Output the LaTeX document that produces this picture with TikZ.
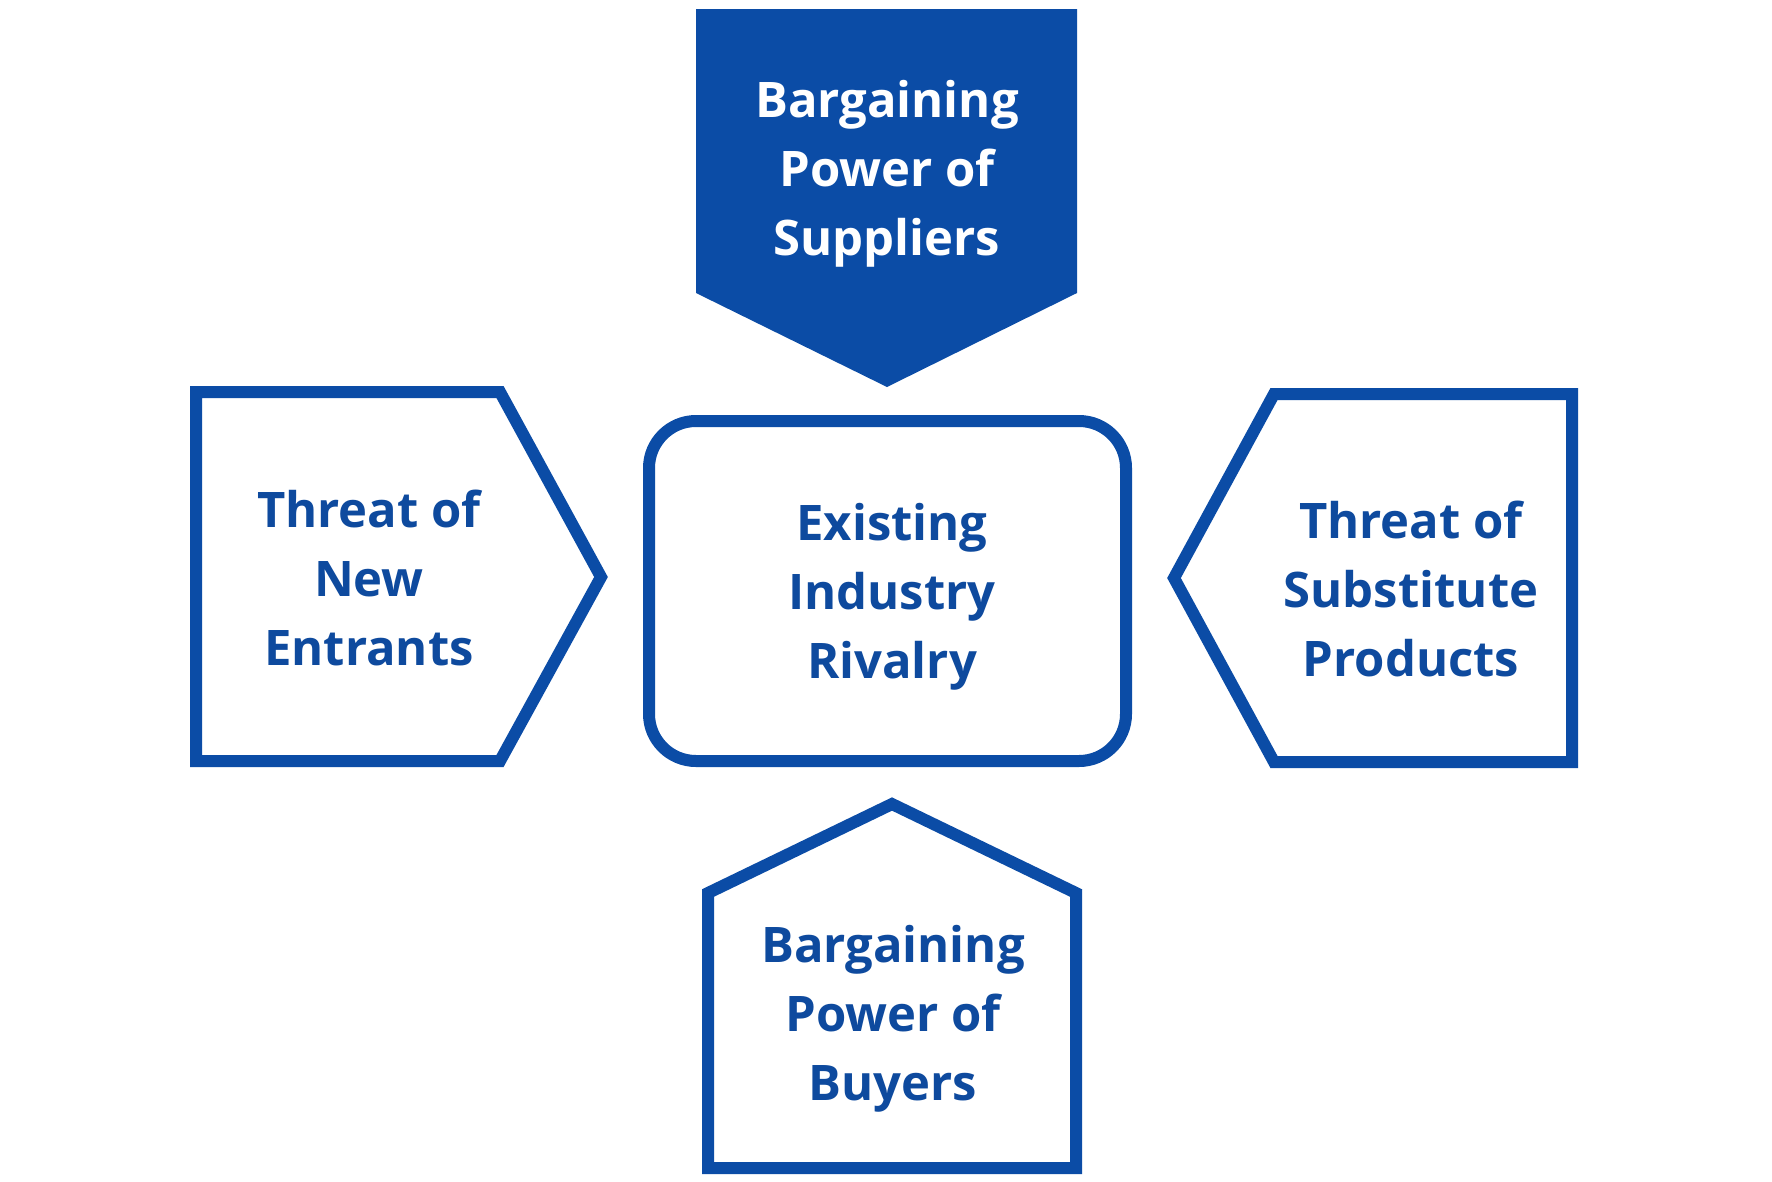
\documentclass[tikz,border=0pt]{standalone}
\usepackage{fontspec}
\setmainfont{Open Sans}
\definecolor{pblue}{RGB}{11,76,166}
\definecolor{tblue}{RGB}{14,74,158}
\begin{document}
\begin{tikzpicture}[x=1pt,y=-1pt,
  frame/.style={draw=pblue,line width=12pt,line join=miter,fill=white},
  lbl/.style={align=center,inner sep=0pt,text=tblue,font=\fontsize{49}{69}\selectfont\bfseries},
]
\useasboundingbox[fill=white] (0,0) rectangle (1772,1181);
% shapes
\fill[pblue] (696,9) -- (1077,9) -- (1077,293) -- (887,387) -- (696,293) -- cycle;
\draw[frame] (196,392) -- (500,392) -- (601,577) -- (500,761) -- (196,761) -- cycle;
\draw[frame] (1572,394) -- (1274,394) -- (1174,578) -- (1274,762) -- (1572,762) -- cycle;
\draw[frame] (708,1168) -- (708,893) -- (892,804) -- (1076,893) -- (1076,1168) -- cycle;
\draw[frame,rounded corners=47pt] (649,421) rectangle (1126,761);
% labels
\node[lbl,text=white] (sup) at (887,173) {\strut Bargaining\\\strut Power of\\\strut Suppliers};
\node[lbl] (new) at (369,583) {\strut Threat of\\\strut New\\\strut Entrants};
\node[lbl] (riv) at (892,596) {\strut Existing\\\strut Industry\\\strut Rivalry};
\node[lbl] (subs) at (1411,594) {\strut Threat of\\\strut Substitute\\\strut Products};
\node[lbl] (buy) at (893,1018) {\strut Bargaining\\\strut Power of\\\strut Buyers};
\end{tikzpicture}
\end{document}
